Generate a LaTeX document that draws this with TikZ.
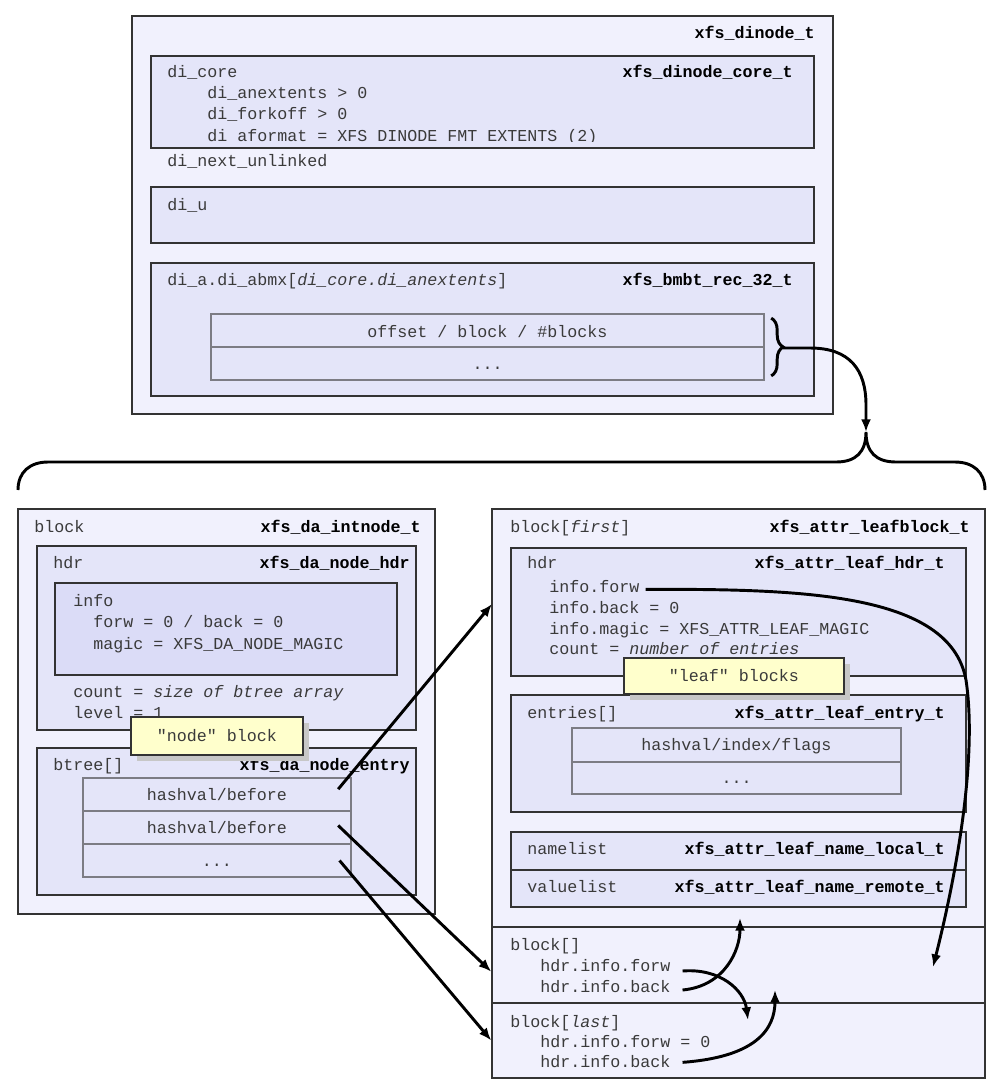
\documentclass[tikz,border=0pt]{standalone}
\usepackage{fontspec}
\setmonofont{Liberation Mono}
\usetikzlibrary{arrows.meta, fit, decorations.pathreplacing, shadows}
\usepackage{xcolor}
\definecolor{boxline}{HTML}{333333}
\definecolor{outerfill}{HTML}{F1F1FD}
\definecolor{innerfill}{HTML}{E4E5F9}
\definecolor{infofill}{HTML}{DBDCF7}
\definecolor{cellline}{HTML}{7C7C84}
\definecolor{notefill}{HTML}{FFFFCC}
\definecolor{plain}{HTML}{3A3A3A}
\newcommand{\codesize}{\fontsize{12.5}{15}\selectfont}

\begin{document}
\begin{tikzpicture}[x=0.75pt, y=-0.75pt,
  outer/.style={draw=boxline, fill=outerfill, line width=1.1pt, inner sep=0pt},
  inner/.style={draw=boxline, fill=innerfill, line width=1.1pt, inner sep=0pt},
  infobox/.style={inner, fill=infofill},
  cell/.style={draw=cellline, fill=innerfill, line width=0.8pt, inner sep=0pt},
  fld/.style={anchor=base west, inner sep=0pt, text=plain, font=\codesize\ttfamily},
  typ/.style={anchor=base east, inner sep=0pt, font=\codesize\ttfamily\bfseries},
  val/.style={anchor=base, inner sep=0pt, text=plain, font=\codesize\ttfamily},
  note/.style={draw=boxline, fill=notefill, line width=1.1pt, inner sep=0pt, text=plain,
    font=\codesize\ttfamily,
    drop shadow={shadow xshift=4.5pt, shadow yshift=-4.5pt, fill=black!22, opacity=1}},
  ptr/.style={-{Latex[length=9.5pt,width=7.5pt]}, line width=2.2pt},
  curly/.style={line width=2.2pt}
]
\useasboundingbox (0,0) rectangle (998,1090);

\node[outer, fit={(132,16) (833,414)}] (dinode) {};
\node[typ] at (815,38) {xfs\_dinode\_t};
\node[inner, fit={(151,56) (814,148)}] (dicore) {};
\node[fld] at (167,77) {di\_core};
\node[typ] at (793,77) {xfs\_dinode\_core\_t};
\node[fld] at (207,98) {di\_anextents > 0};
\node[fld] at (207,119) {di\_forkoff > 0};
\begin{scope}
  \clip (151,56) rectangle (814,141.5);
  \node[fld] at (207,141.5) {di\_aformat = XFS\_DINODE\_FMT\_EXTENTS (2)};
\end{scope}
\node[fld] at (167,166) {di\_next\_unlinked};
\node[inner, fit={(151,187) (814,243)}] (diu) {};
\node[fld] at (167,210) {di\_u};
\node[inner, fit={(151,263) (814,396)}] (dia) {};
\node[fld] at (167,285) {di\_a.di\_abmx[\textit{di\_core.di\_anextents}]};
\node[typ] at (793,285) {xfs\_bmbt\_rec\_32\_t};
\node[cell, fit={(211,314) (764,347)}] (bmx1) {};
\node[cell, fit={(211,347) (764,380)}] (bmx2) {};
\node[val] at (487.5,337) {offset / block / \#blocks};
\node[val] at (487.5,369) {...};
\draw[curly, decorate, decoration={brace, amplitude=9pt}]
  ([xshift=5pt,yshift=-3.5pt]bmx1.north east) -- ([xshift=5pt,yshift=3.5pt]bmx2.south east);
\coordinate (bmxtip) at (783,348);

\coordinate (splittip) at (866,432);
\draw[curly] (18,490) .. controls (18,472) and (30,462) .. (48,462) -- (836,462)
  .. controls (856,462) and (866,452) .. (splittip)
  .. controls (866,452) and (876,462) .. (896,462) -- (955,462)
  .. controls (973,462) and (985,472) .. (985,490);
\draw[ptr] (bmxtip) -- (810,348) .. controls (850,348) and (866,370) .. (866,405) -- (splittip);

\node[outer, fit={(18,509) (435,914)}] (intnode) {};
\node[fld] at (34,532) {block};
\node[typ] at (421,532) {xfs\_da\_intnode\_t};
\node[inner, fit={(37,546) (416,730)}] (ndhdr) {};
\node[fld] at (53,568) {hdr};
\node[typ] at (410,568) {xfs\_da\_node\_hdr};
\node[infobox, fit={(55,583) (397,675)}] (ndinfo) {};
\node[fld] at (73,606) {info};
\node[fld] at (93,627) {forw = 0 / back = 0};
\node[fld] at (93,649) {magic = XFS\_DA\_NODE\_MAGIC};
\node[fld] at (73,697) {count = \textit{size of btree array}};
\node[fld] at (73,718) {level = 1};
\node[inner, fit={(37,748) (416,895)}] (btree) {};
\node[fld] at (53,770) {btree[]};
\node[typ] at (410,770) {xfs\_da\_node\_entry};
\node[cell, fit={(83,778) (351,811)}] (bt1) {};
\node[cell, fit={(83,811) (351,844)}] (bt2) {};
\node[cell, fit={(83,844) (351,877)}] (bt3) {};
\node[val] at (217,800) {hashval/before};
\node[val] at (217,833) {hashval/before};
\node[val] at (217,866) {...};
\node[note, minimum width=129pt, minimum height=28.5pt] (nodenote) at (217,736) {"node" block};

\node[outer, fit={(492,509) (985,927)}] (leafblk) {};
\node[outer, fit={(492,927) (985,1003)}] (midblk) {};
\node[outer, fit={(492,1003) (985,1078)}] (lastblk) {};
\node[fld] at (510,532) {block[\textit{first}]};
\node[typ] at (970,532) {xfs\_attr\_leafblock\_t};
\node[inner, fit={(511,548) (966,676)}] (lfhdr) {};
\node[fld] at (527,568) {hdr};
\node[typ] at (945,568) {xfs\_attr\_leaf\_hdr\_t};
\node[fld] (lfforw) at (549,592) {info.forw};
\node[fld] at (549,613) {info.back = 0};
\node[fld] at (549,634) {info.magic = XFS\_ATTR\_LEAF\_MAGIC};
\node[fld] at (549,654) {count = \textit{number of entries}};
\node[inner, fit={(511,695) (966,812)}] (entries) {};
\node[fld] at (527,718) {entries[]};
\node[typ] at (945,718) {xfs\_attr\_leaf\_entry\_t};
\node[cell, fit={(572,728) (901,762)}] (ent1) {};
\node[cell, fit={(572,762) (901,794)}] (ent2) {};
\node[val] at (736.5,750) {hashval/index/flags};
\node[val] at (736.5,783) {...};
\node[inner, fit={(511,832) (966,870)}] (names) {};
\node[inner, fit={(511,870) (966,907)}] (values) {};
\node[fld] at (527,854) {namelist};
\node[typ] at (945,854) {xfs\_attr\_leaf\_name\_local\_t};
\node[fld] at (527,892) {valuelist};
\node[typ] at (945,892) {xfs\_attr\_leaf\_name\_remote\_t};
\node[note, minimum width=165pt, minimum height=27pt] (leafnote) at (734,676) {"leaf" blocks};
\node[fld] at (510,950) {block[]};
\node[fld] (midforw) at (540,971) {hdr.info.forw};
\node[fld] (midback) at (540,992) {hdr.info.back};
\node[fld] at (510,1027) {block[\textit{last}]};
\node[fld] at (540,1047) {hdr.info.forw = 0};
\node[fld] (lastback) at (540,1067) {hdr.info.back};

\coordinate (leafin) at (492,604);
\coordinate (fwdend) at (933,967);
\coordinate (valuesup) at (740,918);
\coordinate (lastin) at (748,1020);
\coordinate (midin) at (775,990);
\draw[ptr] ([xshift=-10pt,yshift=4pt]bt1.east) -- (leafin);
\draw[ptr] ([xshift=-10pt,yshift=1.5pt]bt2.east) -- ([yshift=-5pt]midblk.west);
\draw[ptr] ([xshift=-9pt]bt3.east) -- (lastblk.west);
\draw[ptr] ([xshift=4.5pt,yshift=2pt]lfforw.base east) .. controls (800,589) and (950,592) .. (966,680)
  .. controls (978,760) and (955,880) .. (fwdend);
\draw[ptr] ([xshift=9pt,yshift=1.5pt]midback.base east) .. controls (725,986) and (740,950) .. (valuesup);
\draw[ptr] ([xshift=9pt]midforw.base east) .. controls (720,968) and (744,990) .. (lastin);
\draw[ptr] ([xshift=9pt,yshift=3.5pt]lastback.base east) .. controls (755,1057) and (775,1030) .. (midin);
\end{tikzpicture}
\end{document}
